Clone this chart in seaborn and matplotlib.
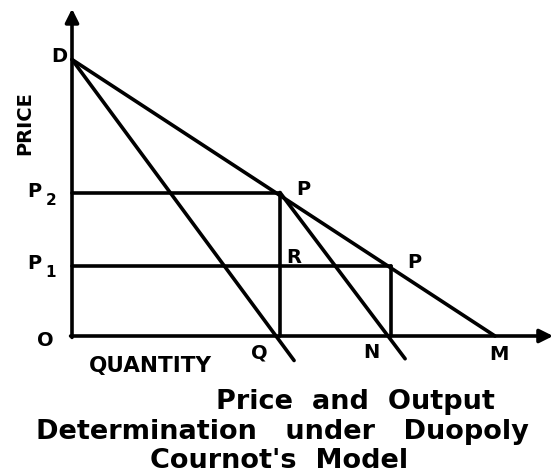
import pandas as pd
import matplotlib.pyplot as plt
import seaborn as sns

# Cournot duopoly diagram values (arbitrary units)
demand_q = [0, 12.0]          # D -> M
demand_p = [7.9, 0]
mr_one_q = [0, 6.3]           # D -> Q, drawn a little past the axis
mr_one_p = [7.9, -0.7]
mr_two_q = [5.9, 9.45]        # P -> N, drawn a little past the axis
mr_two_p = [4.1, -0.65]

price_levels = [4.1, 2.0]     # P2, P1
price_qty = [5.9, 9.05]       # where each price meets the demand line

axis_x_end = 13.65
axis_y_end = 9.35

# build one long table of segments for seaborn
rows = []
segments = {
    'demand': (demand_q, demand_p),
    'mr_one': (mr_one_q, mr_one_p),
    'mr_two': (mr_two_q, mr_two_p),
}
for i, (p, q) in enumerate(zip(price_levels, price_qty)):
    segments[f'h{i}'] = ([0, q], [p, p])
    segments[f'v{i}'] = ([q, q], [p, 0])
for name, (xs, ys) in segments.items():
    for x, y in zip(xs, ys):
        rows.append({'segment': name, 'quantity': x, 'price': y})
df = pd.DataFrame(rows)

sns.set_style('white')
plt.rcParams['font.family'] = ['DejaVu Sans']
plt.rcParams['text.color'] = 'black'

fig = plt.figure(figsize=(5.59, 4.77), dpi=100)
ax = fig.add_axes([0, 0, 1, 1])

sns.lineplot(data=df, x='quantity', y='price', units='segment', estimator=None,
             sort=False, color='black', lw=2.6, legend=False, ax=ax)

# axes with arrow heads
arrow = dict(arrowstyle='-|>', lw=2.6, color='black', mutation_scale=20,
             shrinkA=0, shrinkB=0)
ax.annotate('', xy=(axis_x_end, 0), xytext=(-0.04, 0), arrowprops=arrow)
ax.annotate('', xy=(0, axis_y_end), xytext=(0, -0.04), arrowprops=arrow)

# pixel-aligned limits (origin at ~ (72, 337) px)
ax.set_xlim(-72 / 35.25, (559 - 72) / 35.25)
ax.set_ylim((337 - 477) / 35, 337 / 35)
ax.set_axis_off()

lab = dict(fontsize=14, fontweight='bold', ha='center', va='center')
sub = dict(fontsize=11, fontweight='bold', ha='center', va='center')
ax.text(-0.37, 8.0, 'D', **lab)
ax.text(-1.08, 4.15, 'P', **lab)
ax.text(-0.6, 3.9, '2', **sub)
ax.text(-1.08, 2.1, 'P', **lab)
ax.text(-0.6, 1.85, '1', **sub)
ax.text(-0.77, -0.1, 'O', **lab)
ax.text(6.55, 4.2, 'P', **lab)
ax.text(9.7, 2.13, 'P', **lab)
ax.text(6.3, 2.28, 'R', **lab)
ax.text(5.3, -0.45, 'Q', **lab)
ax.text(8.5, -0.45, 'N', **lab)
ax.text(12.1, -0.5, 'M', **lab)

ax.text(-1.33, 6.1, 'PRICE', rotation=90, fontsize=14, fontweight='bold',
        ha='center', va='center')
ax.text(2.21, -0.83, 'QUANTITY', fontsize=15.5, fontweight='bold',
        ha='center', va='center')

title = dict(fontsize=19.5, fontweight='bold', ha='center', va='center')
fig.text(355 / 559, 1 - 402 / 477, 'Price  and  Output', **title)
fig.text(282 / 559, 1 - 432 / 477, 'Determination   under   Duopoly', **title)
fig.text(279 / 559, 1 - 461 / 477, "Cournot's  Model", **title)

plt.savefig('out.png', dpi=100)
